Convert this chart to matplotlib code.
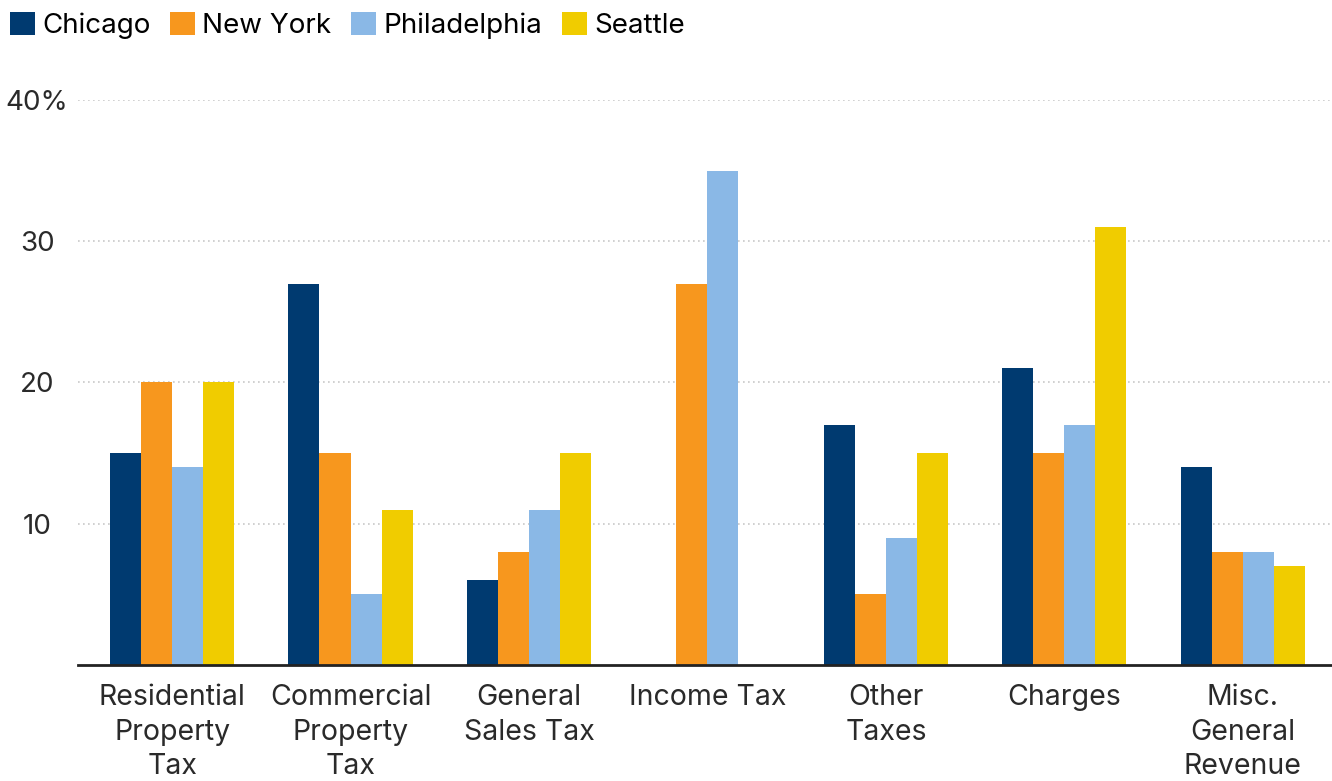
import numpy as np
import matplotlib.pyplot as plt

plt.rcParams['font.family'] = ['Inter', 'DejaVu Sans']

categories = ['Residential\nProperty\nTax', 'Commercial\nProperty\nTax', 'General\nSales Tax',
              'Income Tax', 'Other\nTaxes', 'Charges', 'Misc.\nGeneral\nRevenue']
cities = ['Chicago', 'New York', 'Philadelphia', 'Seattle']
chicago = [15, 27, 6, 0, 17, 21, 14]
new_york = [20, 15, 8, 27, 5, 15, 8]
philadelphia = [14, 5, 11, 35, 9, 17, 8]
seattle = [20, 11, 15, 0, 15, 31, 7]
colors = ['#003A70', '#F7971E', '#8AB8E6', '#F0CC00']

series = [chicago, new_york, philadelphia, seattle]

fig = plt.figure(figsize=(13.32, 7.81), dpi=100)
ax = fig.add_axes([0.0586, 0.1485, 0.9414, 0.7235])

x = np.arange(len(categories))
w = 0.174
for i, (vals, c, name) in enumerate(zip(series, colors, cities)):
    ax.bar(x + (i - 1.5) * w, vals, w, color=c, label=name, zorder=3)

ax.set_xlim(-0.527, 6.5)
ax.set_ylim(0, 40)
ax.set_yticks([10, 20, 30, 40])
ax.set_yticklabels(['10', '20', '30', '40%'])
ax.yaxis.grid(True, linestyle=(0, (1, 2)), color='#c8c8c8', linewidth=1.2, zorder=0)
ax.set_xticks(x)
ax.set_xticklabels(categories, linespacing=1.35)
ax.tick_params(axis='y', length=0, pad=29.5, labelsize=20, labelcolor='#2a2a2a')
ax.tick_params(axis='x', length=0, pad=14, labelsize=20.5, labelcolor='#2a2a2a')
for lab in ax.get_yticklabels():
    lab.set_ha('center')
for s in ['top', 'right', 'left']:
    ax.spines[s].set_visible(False)
ax.spines['bottom'].set_color('#222222')
ax.spines['bottom'].set_linewidth(2)
ax.spines['bottom'].set_zorder(4)

fig.legend(loc='upper left', bbox_to_anchor=(10 / 1332, 1 - 12 / 781), ncol=4, frameon=False,
           fontsize=20, handlelength=0.9, handleheight=0.9, handletextpad=0.25,
           columnspacing=0.72, borderaxespad=0, borderpad=0)

plt.savefig('out.png', dpi=100)
